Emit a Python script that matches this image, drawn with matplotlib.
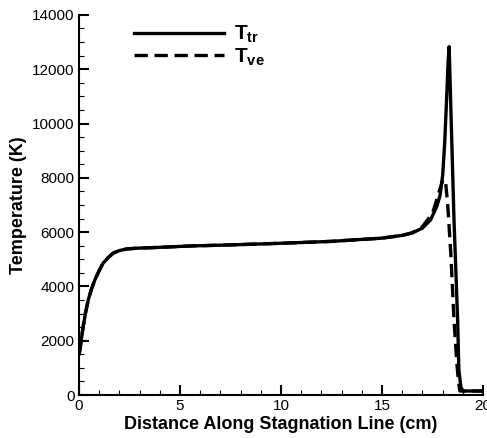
import numpy as np
import matplotlib as mpl
mpl.use('Agg')
import matplotlib.pyplot as plt
from matplotlib.ticker import MultipleLocator

x_tr = [0.0, 0.05, 0.12, 0.21, 0.32, 0.46, 0.62, 0.79, 1.0, 1.2, 1.45, 1.7, 2.0, 2.36, 2.9, 3.67, 5.5,
        7.5, 10.0, 12.5, 15.0, 16.0, 16.5, 17.0, 17.4, 17.7, 17.87, 18.0, 18.1, 18.2, 18.27, 18.32,
        18.42, 18.56, 18.74, 18.8, 18.9, 19.0, 20.0]
T_tr = [1500, 1650, 2050, 2510, 3000, 3500, 3900, 4240, 4580, 4860, 5060, 5230, 5320, 5380, 5410, 5430,
        5490, 5530, 5590, 5660, 5780, 5880, 5970, 6150, 6450, 6930, 7350, 8100, 9300, 11000, 12300,
        12830, 10130, 6450, 2760, 920, 300, 150, 150]

x_ve = [0.0, 0.05, 0.12, 0.21, 0.32, 0.46, 0.62, 0.79, 1.0, 1.2, 1.45, 1.7, 2.0, 2.36, 2.9, 3.67, 5.5,
        7.5, 10.0, 12.5, 15.0, 16.0, 16.5, 17.0, 17.5, 17.87, 18.0, 18.08, 18.15, 18.25, 18.4, 18.56,
        18.7, 18.78, 18.85, 20.0]
T_ve = [1500, 1650, 2050, 2510, 3000, 3500, 3900, 4240, 4580, 4860, 5060, 5230, 5320, 5380, 5410, 5430,
        5490, 5530, 5590, 5660, 5780, 5880, 5980, 6200, 6700, 7600, 7900, 7950, 7800, 7000, 5230, 2760,
        1180, 500, 150, 150]

plt.rcParams['font.family'] = 'Liberation Sans'
plt.rcParams['mathtext.fontset'] = 'custom'
plt.rcParams['mathtext.rm'] = 'Liberation Sans:bold'
plt.rcParams['mathtext.bf'] = 'Liberation Sans:bold'
plt.rcParams['mathtext.it'] = 'Liberation Sans:bold'

fig = plt.figure(figsize=(4.87, 4.38), dpi=100)
ax = fig.add_axes([0.162, 0.098, 0.830, 0.868])

lw = 2.4
ax.plot(x_tr, T_tr, color='black', lw=lw, label=r'$\mathbf{T_{tr}}$')
ax.plot(x_ve, T_ve, color='black', lw=lw, ls=(0, (4, 2)), label=r'$\mathbf{T_{ve}}$')

ax.set_xlim(0, 20)
ax.set_ylim(0, 14000)
ax.xaxis.set_major_locator(MultipleLocator(5))
ax.xaxis.set_minor_locator(MultipleLocator(1))
ax.yaxis.set_major_locator(MultipleLocator(2000))
ax.yaxis.set_minor_locator(MultipleLocator(500))
ax.tick_params(which='major', direction='in', length=7, width=1.5, labelsize=11, pad=3)
ax.tick_params(which='minor', direction='in', length=3.5, width=0.8)
ax.spines['top'].set_visible(False)
ax.spines['right'].set_visible(False)
ax.spines['left'].set_linewidth(1.5)
ax.spines['bottom'].set_linewidth(1.5)

ax.set_xlabel('Distance Along Stagnation Line (cm)', fontsize=13, fontweight='bold', labelpad=2)
ax.set_ylabel('Temperature (K)', fontsize=13, fontweight='bold', labelpad=4)

ax.legend(loc='upper left', bbox_to_anchor=(0.09, 1.025), frameon=False, fontsize=15,
          handlelength=4.3, handletextpad=0.5, labelspacing=0.05)

fig.savefig('out.png', dpi=100)
